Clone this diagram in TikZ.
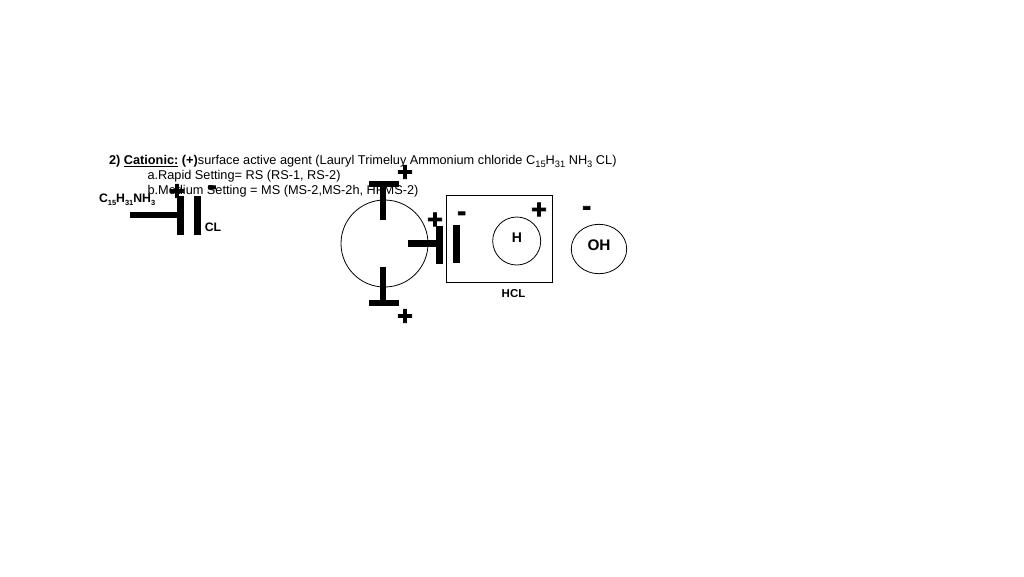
\documentclass[tikz,border=0pt]{standalone}
\usepackage{fontspec}
\setmainfont{Liberation Sans}
\newfontfamily\signfont[BoldFeatures={FakeBold=3}]{Liberation Sans}
\newcommand{\fs}[1]{\fontsize{#1}{#1}\selectfont}
\newcommand{\sbn}[1]{\raisebox{-2.4pt}{\fs{7}#1}}
\newcommand{\sbb}[1]{\raisebox{-2.4pt}{\fs{5.6}#1}}
\tikzset{
  x=0.75pt,y=-0.75pt,
  txt/.style={inner sep=0pt,outer sep=0pt,anchor=base west,font=\fs{9.56},text=black},
  lab/.style={inner sep=0pt,outer sep=0pt,font=\fs{9.2}\bfseries},
  sign/.style={inner sep=0pt,outer sep=0pt,font=\fs{20}\signfont\bfseries},
  thick bar/.style={line width=4.9pt,black},
  thin line/.style={line width=0.6pt,black}
}
\begin{document}
\begin{tikzpicture}
\useasboundingbox (0,0) rectangle (1024,576);
\fill[white] (0,0) rectangle (1024,576);
% heading text
\node[txt] (title) at (109,164.5) {\textbf{2) \underline{Cationic:} (+)}surface active agent (Lauryl Trimeluy Ammonium chloride C\sbn{15}H\sbn{31} NH\sbn{3} CL)};
\node[txt] (rapid) at (147.5,179.5) {a.Rapid Setting= RS (RS-1, RS-2)};
\node[txt] (medium) at (147.5,194.7) {b.Medium Setting = MS (MS-2,MS-2h, HFMS-2)};
% left molecule
\node[lab,anchor=base west] (cnh) at (99,202.5) {C\sbb{15}H\sbb{31}NH\sbb{3}};
\node[lab] (cl) at (213,227) {CL};
\draw[thick bar] (130,215) -- (180.3,215);
\draw[thick bar] (180.3,196) -- (180.3,235);
\draw[thick bar] (197.3,196) -- (197.3,235);
\node[sign] (lplus) at (177,192) {+};
\node[sign] (lminus) at (212,190) {-};
% big circle
\node[draw,thin line,circle,minimum size=65.25pt,inner sep=0pt] (big) at (384.5,243.5) {};
\draw[thick bar] (369,184) -- (399,184);
\draw[thick bar] (383,184) -- (383,220);
\draw[thick bar] (369,303) -- (399,303);
\draw[thick bar] (383,267) -- (383,303);
\draw[thick bar] (408,243.7) -- (439.7,243.7);
\draw[thick bar] (439.7,226) -- (439.7,264);
\draw[thick bar] (456.3,225) -- (456.3,263);
\node[sign] (tplus) at (405,173) {+};
\node[sign] (bplus) at (405,317) {+};
\node[sign] (mplus) at (435,220.5) {+};
% HCL box
\node[draw,thin line,minimum width=79.2pt,minimum height=65pt,inner sep=0pt] (box) at (499.5,239) {};
\node[sign] (bminus) at (461.7,216) {-};
\node[sign] (hplus) at (539,210.5) {+};
\node[draw,thin line,circle,minimum size=36pt,inner sep=0pt] (hc) at (516.7,241) {};
\node[lab,font=\fs{10.5}\bfseries] (h) at (517,238) {H};
\node[lab,font=\fs{8.6}\bfseries] (hcl) at (513.5,294) {HCL};
% OH
\node[sign] (ominus) at (586.7,210.5) {-};
\draw[thin line] (599,249) ellipse [x radius=27.7,y radius=24.7];
\node[lab,font=\fs{11.5}\bfseries] (oh) at (599,245.5) {OH};
\end{tikzpicture}
\end{document}
